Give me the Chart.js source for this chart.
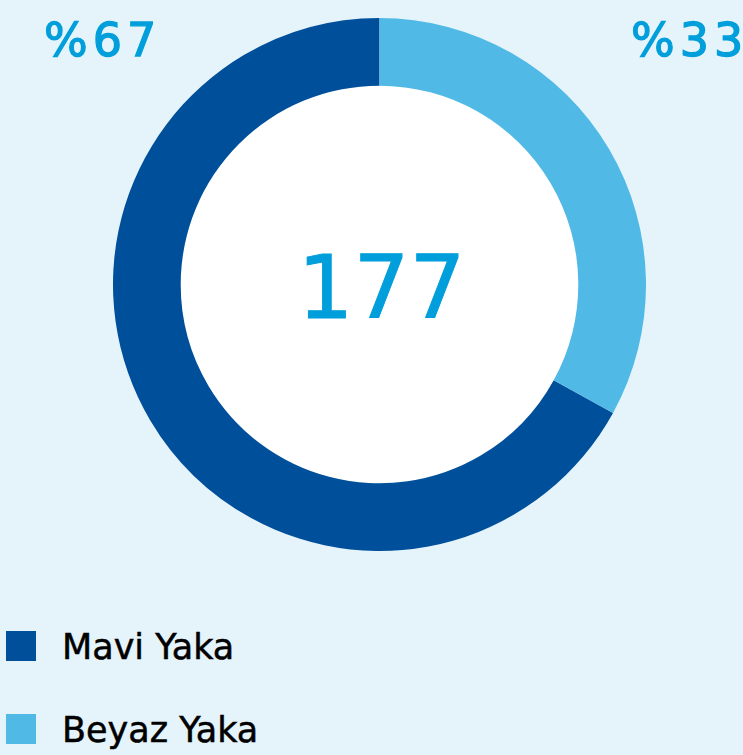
<!DOCTYPE html>
<html>
<head>
<meta charset="utf-8">
<script src="https://cdn.jsdelivr.net/npm/chart.js@4"></script>
<style>
  html, body { margin:0; padding:0; }
  body { width:743px; height:755px; background:#e5f4fb; position:relative; overflow:hidden; font-family:"DejaVu Sans", sans-serif; }
  #wrap { position:absolute; left:113px; top:18px; width:533px; height:533px; }
  .pct { position:absolute; color:#009fdb; font-family:"DejaVu Sans", sans-serif; font-size:46px; letter-spacing:5px; line-height:1; -webkit-text-stroke:1.3px #009fdb; }
  #center { position:absolute; left:115px; top:21px; width:533px; height:533px; display:flex; align-items:center; justify-content:center; color:#009fdb; font-family:"DejaVu Sans", sans-serif; font-size:88px; -webkit-text-stroke:1px #009fdb; pointer-events:none; }
  .box { position:absolute; left:6px; width:30px; height:30px; }
  .lab { position:absolute; left:62px; font-size:35px; line-height:40px; color:#000; -webkit-text-stroke:0.5px #000; }
</style>
</head>
<body>
<div id="wrap"><canvas id="c"></canvas></div>
<div id="center"></div>
<div class="pct" id="p0" style="left:44px; top:17px;"></div>
<div class="pct" id="p1" style="left:631px; top:17px;"></div>
<div id="legend"></div>
<script>
const categories = ["Mavi Yaka", "Beyaz Yaka"];
const values = [67, 33];
const colors = ["#004f9b", "#50b9e6"];
const total = 177;
const pctLabels = ["%67", "%33"];

document.getElementById('center').textContent = String(total);
document.getElementById('p0').textContent = pctLabels[0];
document.getElementById('p1').textContent = pctLabels[1];

const legendTops = [631, 714];
const legend = document.getElementById('legend');
categories.forEach((c, i) => {
  const b = document.createElement('div');
  b.className = 'box';
  b.style.top = legendTops[i] + 'px';
  b.style.background = colors[i];
  const t = document.createElement('div');
  t.className = 'lab';
  t.style.top = (legendTops[i] - 4) + 'px';
  t.textContent = c;
  legend.appendChild(b); legend.appendChild(t);
});

const innerFill = {
  id: 'innerFill',
  beforeDatasetsDraw(chart) {
    const arc = chart.getDatasetMeta(0).data[0];
    if (!arc) return;
    const ctx = chart.ctx;
    ctx.save();
    ctx.beginPath();
    ctx.arc(arc.x, arc.y, arc.innerRadius, 0, Math.PI * 2);
    ctx.fillStyle = '#ffffff';
    ctx.fill();
    ctx.restore();
  }
};

new Chart(document.getElementById('c'), {
  type: 'doughnut',
  data: {
    labels: categories,
    datasets: [{
      data: values,
      backgroundColor: colors,
      borderWidth: 0,
      hoverOffset: 0
    }]
  },
  options: {
    responsive: true,
    maintainAspectRatio: false,
    animation: false,
    cutout: '74.6%',
    rotation: 360 * values[1] / (values[0] + values[1]),
    layout: { padding: 0 },
    plugins: { legend: { display: false }, tooltip: { enabled: false } }
  },
  plugins: [innerFill]
});
</script>
</body>
</html>
